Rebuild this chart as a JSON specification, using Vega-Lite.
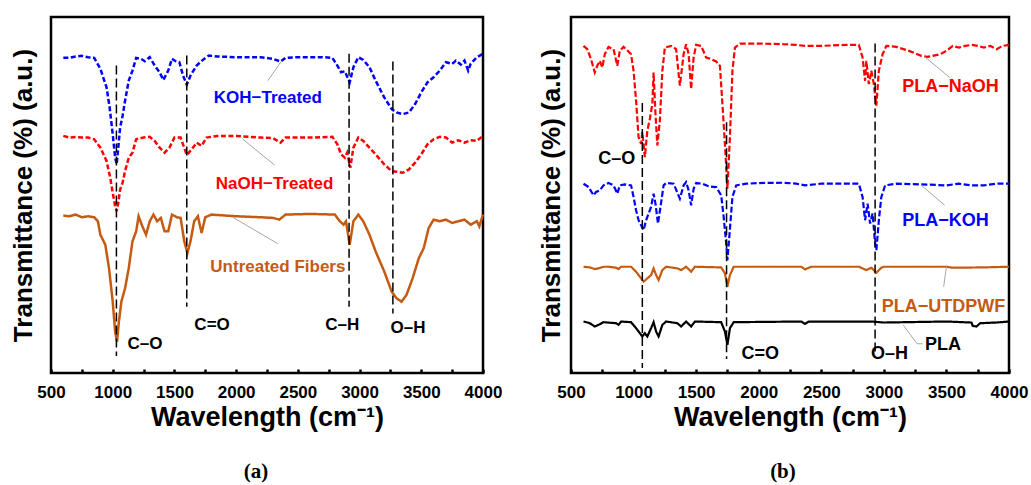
{
"$schema": "https://vega.github.io/schema/vega-lite/v6.json",
"background": "white",
"padding": {"left": 8, "top": 15, "right": 0, "bottom": 0},
"bounds": "flush",
"spacing": 88,
"resolve": {"scale": {"color": "independent", "strokeDash": "independent"}},
"config": {
  "view": {"stroke": "#000", "strokeWidth": 2.5},
  "font": "Liberation Sans",
  "axis": {"grid": false, "domain": false, "labelFont": "Liberation Sans", "labelFontWeight": "bold", "labelFontSize": 17, "labelColor": "#000", "titleFont": "Liberation Sans", "titleFontWeight": "bold", "titleFontSize": 26, "titleColor": "#000", "tickColor": "#000", "tickWidth": 2.5},
  "axisX": {"tickSize": -4, "labelPadding": 15, "titlePadding": 4, "titleFontSize": 27, "labelFlush": false, "labelOverlap": false}
},
"datasets": {
  "spectraA": [
    {"series":"KOH−Treated","wn":600,"t":94.1},{"series":"KOH−Treated","wn":650,"t":94.1},{"series":"KOH−Treated","wn":700,"t":94.5},{"series":"KOH−Treated","wn":750,"t":94.7},{"series":"KOH−Treated","wn":800,"t":94.3},{"series":"KOH−Treated","wn":850,"t":94.1},{"series":"KOH−Treated","wn":900,"t":90.8},{"series":"KOH−Treated","wn":950,"t":85.3},{"series":"KOH−Treated","wn":975,"t":79.3},{"series":"KOH−Treated","wn":1000,"t":71.3},{"series":"KOH−Treated","wn":1020,"t":64.3},{"series":"KOH−Treated","wn":1032,"t":62.3},{"series":"KOH−Treated","wn":1045,"t":67.3},{"series":"KOH−Treated","wn":1060,"t":73.3},{"series":"KOH−Treated","wn":1080,"t":76.8},{"series":"KOH−Treated","wn":1100,"t":81.3},{"series":"KOH−Treated","wn":1130,"t":87.3},{"series":"KOH−Treated","wn":1160,"t":90.3},{"series":"KOH−Treated","wn":1190,"t":94.1},{"series":"KOH−Treated","wn":1230,"t":93.8},{"series":"KOH−Treated","wn":1260,"t":93.1},{"series":"KOH−Treated","wn":1300,"t":94.3},{"series":"KOH−Treated","wn":1340,"t":91.8},{"series":"KOH−Treated","wn":1380,"t":89.8},{"series":"KOH−Treated","wn":1410,"t":87.5},{"series":"KOH−Treated","wn":1450,"t":90.3},{"series":"KOH−Treated","wn":1480,"t":93.8},{"series":"KOH−Treated","wn":1510,"t":93.1},{"series":"KOH−Treated","wn":1540,"t":92.8},{"series":"KOH−Treated","wn":1570,"t":88.8},{"series":"KOH−Treated","wn":1600,"t":86.1},{"series":"KOH−Treated","wn":1630,"t":88.8},{"series":"KOH−Treated","wn":1680,"t":91.8},{"series":"KOH−Treated","wn":1730,"t":93.5},{"series":"KOH−Treated","wn":1780,"t":94.8},{"series":"KOH−Treated","wn":1850,"t":94.5},{"series":"KOH−Treated","wn":2000,"t":94.3},{"series":"KOH−Treated","wn":2200,"t":94.3},{"series":"KOH−Treated","wn":2300,"t":93.8},{"series":"KOH−Treated","wn":2360,"t":93.0},{"series":"KOH−Treated","wn":2400,"t":94.1},{"series":"KOH−Treated","wn":2500,"t":94.3},{"series":"KOH−Treated","wn":2700,"t":94.3},{"series":"KOH−Treated","wn":2780,"t":94.1},{"series":"KOH−Treated","wn":2820,"t":91.8},{"series":"KOH−Treated","wn":2850,"t":89.8},{"series":"KOH−Treated","wn":2880,"t":90.1},{"series":"KOH−Treated","wn":2920,"t":86.8},{"series":"KOH−Treated","wn":2950,"t":91.3},{"series":"KOH−Treated","wn":2990,"t":94.3},{"series":"KOH−Treated","wn":3030,"t":93.5},{"series":"KOH−Treated","wn":3080,"t":91.3},{"series":"KOH−Treated","wn":3130,"t":87.3},{"series":"KOH−Treated","wn":3200,"t":82.3},{"series":"KOH−Treated","wn":3260,"t":78.8},{"series":"KOH−Treated","wn":3300,"t":77.8},{"series":"KOH−Treated","wn":3350,"t":77.3},{"series":"KOH−Treated","wn":3400,"t":77.8},{"series":"KOH−Treated","wn":3450,"t":80.3},{"series":"KOH−Treated","wn":3500,"t":83.8},{"series":"KOH−Treated","wn":3550,"t":86.8},{"series":"KOH−Treated","wn":3600,"t":88.3},{"series":"KOH−Treated","wn":3650,"t":90.3},{"series":"KOH−Treated","wn":3700,"t":92.8},{"series":"KOH−Treated","wn":3750,"t":92.3},{"series":"KOH−Treated","wn":3780,"t":93.3},{"series":"KOH−Treated","wn":3820,"t":92.1},{"series":"KOH−Treated","wn":3850,"t":93.3},{"series":"KOH−Treated","wn":3880,"t":90.3},{"series":"KOH−Treated","wn":3900,"t":92.3},{"series":"KOH−Treated","wn":3950,"t":94.3},{"series":"KOH−Treated","wn":4000,"t":95.3},
    {"series":"NaOH−Treated","wn":600,"t":70.8},{"series":"NaOH−Treated","wn":650,"t":70.3},{"series":"NaOH−Treated","wn":700,"t":70.5},{"series":"NaOH−Treated","wn":750,"t":70.3},{"series":"NaOH−Treated","wn":800,"t":70.3},{"series":"NaOH−Treated","wn":850,"t":69.8},{"series":"NaOH−Treated","wn":900,"t":67.3},{"series":"NaOH−Treated","wn":950,"t":63.3},{"series":"NaOH−Treated","wn":980,"t":58.3},{"series":"NaOH−Treated","wn":1000,"t":53.8},{"series":"NaOH−Treated","wn":1020,"t":49.8},{"series":"NaOH−Treated","wn":1032,"t":48.3},{"series":"NaOH−Treated","wn":1045,"t":50.8},{"series":"NaOH−Treated","wn":1060,"t":54.8},{"series":"NaOH−Treated","wn":1080,"t":56.8},{"series":"NaOH−Treated","wn":1100,"t":60.3},{"series":"NaOH−Treated","wn":1130,"t":64.3},{"series":"NaOH−Treated","wn":1160,"t":65.8},{"series":"NaOH−Treated","wn":1190,"t":69.8},{"series":"NaOH−Treated","wn":1250,"t":70.3},{"series":"NaOH−Treated","wn":1300,"t":70.5},{"series":"NaOH−Treated","wn":1340,"t":69.3},{"series":"NaOH−Treated","wn":1380,"t":67.3},{"series":"NaOH−Treated","wn":1420,"t":65.8},{"series":"NaOH−Treated","wn":1460,"t":67.3},{"series":"NaOH−Treated","wn":1500,"t":70.3},{"series":"NaOH−Treated","wn":1550,"t":70.3},{"series":"NaOH−Treated","wn":1600,"t":65.1},{"series":"NaOH−Treated","wn":1640,"t":66.8},{"series":"NaOH−Treated","wn":1680,"t":68.8},{"series":"NaOH−Treated","wn":1720,"t":67.8},{"series":"NaOH−Treated","wn":1760,"t":70.3},{"series":"NaOH−Treated","wn":1850,"t":70.8},{"series":"NaOH−Treated","wn":2000,"t":70.8},{"series":"NaOH−Treated","wn":2200,"t":70.3},{"series":"NaOH−Treated","wn":2300,"t":70.1},{"series":"NaOH−Treated","wn":2360,"t":68.8},{"series":"NaOH−Treated","wn":2400,"t":70.3},{"series":"NaOH−Treated","wn":2600,"t":70.3},{"series":"NaOH−Treated","wn":2780,"t":70.5},{"series":"NaOH−Treated","wn":2820,"t":68.3},{"series":"NaOH−Treated","wn":2850,"t":65.3},{"series":"NaOH−Treated","wn":2880,"t":64.3},{"series":"NaOH−Treated","wn":2900,"t":65.8},{"series":"NaOH−Treated","wn":2925,"t":61.3},{"series":"NaOH−Treated","wn":2950,"t":67.3},{"series":"NaOH−Treated","wn":2990,"t":70.3},{"series":"NaOH−Treated","wn":3030,"t":69.3},{"series":"NaOH−Treated","wn":3080,"t":67.3},{"series":"NaOH−Treated","wn":3130,"t":65.3},{"series":"NaOH−Treated","wn":3200,"t":62.3},{"series":"NaOH−Treated","wn":3260,"t":60.3},{"series":"NaOH−Treated","wn":3300,"t":60.1},{"series":"NaOH−Treated","wn":3350,"t":59.8},{"series":"NaOH−Treated","wn":3400,"t":60.8},{"series":"NaOH−Treated","wn":3450,"t":62.8},{"series":"NaOH−Treated","wn":3500,"t":65.3},{"series":"NaOH−Treated","wn":3550,"t":68.3},{"series":"NaOH−Treated","wn":3600,"t":69.8},{"series":"NaOH−Treated","wn":3650,"t":70.5},{"series":"NaOH−Treated","wn":3700,"t":70.3},{"series":"NaOH−Treated","wn":3750,"t":68.8},{"series":"NaOH−Treated","wn":3800,"t":69.5},{"series":"NaOH−Treated","wn":3850,"t":68.8},{"series":"NaOH−Treated","wn":3900,"t":69.5},{"series":"NaOH−Treated","wn":3950,"t":69.3},{"series":"NaOH−Treated","wn":4000,"t":70.8},
    {"series":"Untreated Fibers","wn":600,"t":47.0},{"series":"Untreated Fibers","wn":650,"t":46.8},{"series":"Untreated Fibers","wn":700,"t":47.3},{"series":"Untreated Fibers","wn":750,"t":46.5},{"series":"Untreated Fibers","wn":800,"t":46.8},{"series":"Untreated Fibers","wn":850,"t":46.5},{"series":"Untreated Fibers","wn":880,"t":45.3},{"series":"Untreated Fibers","wn":900,"t":41.3},{"series":"Untreated Fibers","wn":940,"t":38.3},{"series":"Untreated Fibers","wn":970,"t":31.3},{"series":"Untreated Fibers","wn":1000,"t":21.3},{"series":"Untreated Fibers","wn":1020,"t":12.3},{"series":"Untreated Fibers","wn":1035,"t":9.3},{"series":"Untreated Fibers","wn":1050,"t":15.3},{"series":"Untreated Fibers","wn":1070,"t":21.3},{"series":"Untreated Fibers","wn":1100,"t":25.3},{"series":"Untreated Fibers","wn":1130,"t":31.3},{"series":"Untreated Fibers","wn":1160,"t":39.3},{"series":"Untreated Fibers","wn":1190,"t":42.3},{"series":"Untreated Fibers","wn":1210,"t":46.8},{"series":"Untreated Fibers","wn":1240,"t":43.8},{"series":"Untreated Fibers","wn":1270,"t":41.3},{"series":"Untreated Fibers","wn":1300,"t":45.3},{"series":"Untreated Fibers","wn":1330,"t":47.3},{"series":"Untreated Fibers","wn":1360,"t":45.3},{"series":"Untreated Fibers","wn":1390,"t":46.3},{"series":"Untreated Fibers","wn":1420,"t":42.3},{"series":"Untreated Fibers","wn":1450,"t":42.3},{"series":"Untreated Fibers","wn":1480,"t":47.3},{"series":"Untreated Fibers","wn":1520,"t":46.5},{"series":"Untreated Fibers","wn":1550,"t":46.3},{"series":"Untreated Fibers","wn":1580,"t":39.3},{"series":"Untreated Fibers","wn":1605,"t":35.8},{"series":"Untreated Fibers","wn":1630,"t":39.3},{"series":"Untreated Fibers","wn":1660,"t":45.3},{"series":"Untreated Fibers","wn":1690,"t":46.8},{"series":"Untreated Fibers","wn":1720,"t":41.8},{"series":"Untreated Fibers","wn":1750,"t":46.5},{"series":"Untreated Fibers","wn":1800,"t":47.3},{"series":"Untreated Fibers","wn":2000,"t":46.8},{"series":"Untreated Fibers","wn":2200,"t":46.5},{"series":"Untreated Fibers","wn":2300,"t":46.3},{"series":"Untreated Fibers","wn":2350,"t":45.8},{"series":"Untreated Fibers","wn":2400,"t":47.3},{"series":"Untreated Fibers","wn":2600,"t":47.5},{"series":"Untreated Fibers","wn":2800,"t":47.3},{"series":"Untreated Fibers","wn":2840,"t":45.3},{"series":"Untreated Fibers","wn":2870,"t":44.3},{"series":"Untreated Fibers","wn":2890,"t":45.3},{"series":"Untreated Fibers","wn":2920,"t":38.3},{"series":"Untreated Fibers","wn":2950,"t":45.3},{"series":"Untreated Fibers","wn":2990,"t":47.3},{"series":"Untreated Fibers","wn":3030,"t":45.3},{"series":"Untreated Fibers","wn":3080,"t":41.3},{"series":"Untreated Fibers","wn":3130,"t":36.3},{"series":"Untreated Fibers","wn":3200,"t":30.3},{"series":"Untreated Fibers","wn":3260,"t":24.3},{"series":"Untreated Fibers","wn":3300,"t":22.3},{"series":"Untreated Fibers","wn":3340,"t":21.3},{"series":"Untreated Fibers","wn":3380,"t":23.3},{"series":"Untreated Fibers","wn":3430,"t":28.3},{"series":"Untreated Fibers","wn":3480,"t":34.3},{"series":"Untreated Fibers","wn":3520,"t":37.3},{"series":"Untreated Fibers","wn":3560,"t":43.3},{"series":"Untreated Fibers","wn":3600,"t":45.8},{"series":"Untreated Fibers","wn":3650,"t":45.3},{"series":"Untreated Fibers","wn":3700,"t":45.8},{"series":"Untreated Fibers","wn":3750,"t":44.8},{"series":"Untreated Fibers","wn":3800,"t":45.3},{"series":"Untreated Fibers","wn":3850,"t":45.8},{"series":"Untreated Fibers","wn":3900,"t":44.3},{"series":"Untreated Fibers","wn":3950,"t":45.3},{"series":"Untreated Fibers","wn":3970,"t":43.8},{"series":"Untreated Fibers","wn":4000,"t":47.3}
  ],
  "rulesA": [{"wn":1030,"t":91.8,"t2":5.1},{"wn":1600,"t":94.8,"t2":19.8},{"wn":2915,"t":95.3,"t2":19.8},{"wn":3270,"t":93.0,"t2":17.8}],
  "labelsA": [
    {"label":"KOH−Treated","series":"KOH−Treated","wn":2257,"t":82.0},
    {"label":"NaOH−Treated","series":"NaOH−Treated","wn":2311,"t":56.3},
    {"label":"Untreated Fibers","series":"Untreated Fibers","wn":2338,"t":31.6},
    {"label":"C–O","series":"bond","wn":1262,"t":8.6},
    {"label":"C=O","series":"bond","wn":1805,"t":14.3},
    {"label":"C–H","series":"bond","wn":2859,"t":14.3},
    {"label":"O–H","series":"bond","wn":3392,"t":13.3}
  ],
  "leadersA": [
    {"id":1,"wn":2257,"t":87.3},{"id":1,"wn":2365,"t":93.0},
    {"id":2,"wn":2054,"t":69.8},{"id":2,"wn":2311,"t":62.1},
    {"id":3,"wn":1973,"t":46.5},{"id":3,"wn":2338,"t":38.6}
  ],
  "spectraB": [
    {"series":"PLA−NaOH","wn":600,"t":98.5},{"series":"PLA−NaOH","wn":630,"t":97.5},{"series":"PLA−NaOH","wn":660,"t":94.5},{"series":"PLA−NaOH","wn":690,"t":90.5},{"series":"PLA−NaOH","wn":710,"t":92.5},{"series":"PLA−NaOH","wn":730,"t":94.0},{"series":"PLA−NaOH","wn":750,"t":92.0},{"series":"PLA−NaOH","wn":770,"t":96.0},{"series":"PLA−NaOH","wn":800,"t":98.2},{"series":"PLA−NaOH","wn":840,"t":97.5},{"series":"PLA−NaOH","wn":870,"t":92.5},{"series":"PLA−NaOH","wn":890,"t":97.0},{"series":"PLA−NaOH","wn":920,"t":98.2},{"series":"PLA−NaOH","wn":950,"t":97.2},{"series":"PLA−NaOH","wn":980,"t":96.0},{"series":"PLA−NaOH","wn":1000,"t":91.0},{"series":"PLA−NaOH","wn":1020,"t":82.0},{"series":"PLA−NaOH","wn":1040,"t":71.0},{"series":"PLA−NaOH","wn":1060,"t":69.0},{"series":"PLA−NaOH","wn":1070,"t":72.5},{"series":"PLA−NaOH","wn":1090,"t":65.0},{"series":"PLA−NaOH","wn":1110,"t":73.0},{"series":"PLA−NaOH","wn":1130,"t":76.5},{"series":"PLA−NaOH","wn":1150,"t":81.0},{"series":"PLA−NaOH","wn":1160,"t":90.5},{"series":"PLA−NaOH","wn":1175,"t":78.0},{"series":"PLA−NaOH","wn":1190,"t":68.5},{"series":"PLA−NaOH","wn":1210,"t":76.0},{"series":"PLA−NaOH","wn":1230,"t":91.0},{"series":"PLA−NaOH","wn":1250,"t":98.0},{"series":"PLA−NaOH","wn":1300,"t":98.5},{"series":"PLA−NaOH","wn":1340,"t":97.5},{"series":"PLA−NaOH","wn":1370,"t":86.5},{"series":"PLA−NaOH","wn":1400,"t":96.0},{"series":"PLA−NaOH","wn":1420,"t":99.0},{"series":"PLA−NaOH","wn":1440,"t":96.0},{"series":"PLA−NaOH","wn":1460,"t":85.5},{"series":"PLA−NaOH","wn":1480,"t":95.0},{"series":"PLA−NaOH","wn":1500,"t":98.8},{"series":"PLA−NaOH","wn":1540,"t":98.5},{"series":"PLA−NaOH","wn":1580,"t":95.0},{"series":"PLA−NaOH","wn":1620,"t":94.5},{"series":"PLA−NaOH","wn":1660,"t":93.8},{"series":"PLA−NaOH","wn":1690,"t":92.5},{"series":"PLA−NaOH","wn":1710,"t":81.0},{"series":"PLA−NaOH","wn":1730,"t":69.0},{"series":"PLA−NaOH","wn":1750,"t":55.5},{"series":"PLA−NaOH","wn":1770,"t":71.0},{"series":"PLA−NaOH","wn":1790,"t":91.0},{"series":"PLA−NaOH","wn":1810,"t":98.0},{"series":"PLA−NaOH","wn":1850,"t":99.2},{"series":"PLA−NaOH","wn":2000,"t":99.2},{"series":"PLA−NaOH","wn":2200,"t":99.0},{"series":"PLA−NaOH","wn":2300,"t":98.8},{"series":"PLA−NaOH","wn":2370,"t":98.5},{"series":"PLA−NaOH","wn":2500,"t":98.5},{"series":"PLA−NaOH","wn":2700,"t":98.8},{"series":"PLA−NaOH","wn":2800,"t":98.8},{"series":"PLA−NaOH","wn":2830,"t":95.0},{"series":"PLA−NaOH","wn":2850,"t":88.0},{"series":"PLA−NaOH","wn":2860,"t":94.0},{"series":"PLA−NaOH","wn":2880,"t":87.0},{"series":"PLA−NaOH","wn":2900,"t":91.0},{"series":"PLA−NaOH","wn":2920,"t":87.0},{"series":"PLA−NaOH","wn":2940,"t":80.5},{"series":"PLA−NaOH","wn":2960,"t":91.0},{"series":"PLA−NaOH","wn":2990,"t":96.0},{"series":"PLA−NaOH","wn":3020,"t":98.5},{"series":"PLA−NaOH","wn":3100,"t":98.2},{"series":"PLA−NaOH","wn":3200,"t":97.0},{"series":"PLA−NaOH","wn":3300,"t":95.5},{"series":"PLA−NaOH","wn":3350,"t":95.2},{"series":"PLA−NaOH","wn":3450,"t":96.0},{"series":"PLA−NaOH","wn":3500,"t":97.0},{"series":"PLA−NaOH","wn":3550,"t":98.5},{"series":"PLA−NaOH","wn":3600,"t":98.0},{"series":"PLA−NaOH","wn":3650,"t":98.5},{"series":"PLA−NaOH","wn":3700,"t":98.8},{"series":"PLA−NaOH","wn":3750,"t":98.5},{"series":"PLA−NaOH","wn":3800,"t":98.0},{"series":"PLA−NaOH","wn":3850,"t":98.5},{"series":"PLA−NaOH","wn":3900,"t":97.5},{"series":"PLA−NaOH","wn":3950,"t":98.5},{"series":"PLA−NaOH","wn":4000,"t":98.8},
    {"series":"PLA−KOH","wn":600,"t":57.0},{"series":"PLA−KOH","wn":640,"t":56.0},{"series":"PLA−KOH","wn":680,"t":53.5},{"series":"PLA−KOH","wn":700,"t":54.5},{"series":"PLA−KOH","wn":730,"t":55.0},{"series":"PLA−KOH","wn":760,"t":56.5},{"series":"PLA−KOH","wn":800,"t":57.2},{"series":"PLA−KOH","wn":840,"t":56.5},{"series":"PLA−KOH","wn":870,"t":54.0},{"series":"PLA−KOH","wn":890,"t":56.5},{"series":"PLA−KOH","wn":930,"t":56.8},{"series":"PLA−KOH","wn":980,"t":56.5},{"series":"PLA−KOH","wn":1000,"t":53.0},{"series":"PLA−KOH","wn":1020,"t":49.0},{"series":"PLA−KOH","wn":1040,"t":46.0},{"series":"PLA−KOH","wn":1060,"t":44.5},{"series":"PLA−KOH","wn":1080,"t":43.0},{"series":"PLA−KOH","wn":1100,"t":46.0},{"series":"PLA−KOH","wn":1120,"t":48.0},{"series":"PLA−KOH","wn":1140,"t":50.0},{"series":"PLA−KOH","wn":1160,"t":54.0},{"series":"PLA−KOH","wn":1175,"t":51.0},{"series":"PLA−KOH","wn":1195,"t":45.0},{"series":"PLA−KOH","wn":1215,"t":50.0},{"series":"PLA−KOH","wn":1240,"t":56.5},{"series":"PLA−KOH","wn":1260,"t":57.2},{"series":"PLA−KOH","wn":1320,"t":57.0},{"series":"PLA−KOH","wn":1370,"t":52.5},{"series":"PLA−KOH","wn":1400,"t":56.5},{"series":"PLA−KOH","wn":1420,"t":57.5},{"series":"PLA−KOH","wn":1440,"t":55.0},{"series":"PLA−KOH","wn":1460,"t":50.5},{"series":"PLA−KOH","wn":1480,"t":55.5},{"series":"PLA−KOH","wn":1500,"t":57.2},{"series":"PLA−KOH","wn":1550,"t":57.0},{"series":"PLA−KOH","wn":1600,"t":56.2},{"series":"PLA−KOH","wn":1660,"t":56.0},{"series":"PLA−KOH","wn":1700,"t":53.5},{"series":"PLA−KOH","wn":1720,"t":47.0},{"series":"PLA−KOH","wn":1740,"t":39.0},{"series":"PLA−KOH","wn":1750,"t":34.0},{"series":"PLA−KOH","wn":1765,"t":41.0},{"series":"PLA−KOH","wn":1790,"t":53.0},{"series":"PLA−KOH","wn":1820,"t":56.5},{"series":"PLA−KOH","wn":1900,"t":57.0},{"series":"PLA−KOH","wn":2000,"t":57.2},{"series":"PLA−KOH","wn":2200,"t":57.3},{"series":"PLA−KOH","wn":2300,"t":57.0},{"series":"PLA−KOH","wn":2370,"t":56.5},{"series":"PLA−KOH","wn":2500,"t":57.0},{"series":"PLA−KOH","wn":2800,"t":57.0},{"series":"PLA−KOH","wn":2830,"t":53.0},{"series":"PLA−KOH","wn":2850,"t":46.0},{"series":"PLA−KOH","wn":2870,"t":51.0},{"series":"PLA−KOH","wn":2890,"t":45.0},{"series":"PLA−KOH","wn":2910,"t":48.0},{"series":"PLA−KOH","wn":2930,"t":39.0},{"series":"PLA−KOH","wn":2940,"t":37.0},{"series":"PLA−KOH","wn":2960,"t":46.0},{"series":"PLA−KOH","wn":2980,"t":53.0},{"series":"PLA−KOH","wn":3010,"t":56.5},{"series":"PLA−KOH","wn":3100,"t":57.0},{"series":"PLA−KOH","wn":3300,"t":56.8},{"series":"PLA−KOH","wn":3500,"t":56.5},{"series":"PLA−KOH","wn":3600,"t":57.0},{"series":"PLA−KOH","wn":3700,"t":56.5},{"series":"PLA−KOH","wn":3800,"t":56.5},{"series":"PLA−KOH","wn":3900,"t":57.0},{"series":"PLA−KOH","wn":4000,"t":57.0},
    {"series":"PLA−UTDPWF","wn":600,"t":32.0},{"series":"PLA−UTDPWF","wn":650,"t":31.8},{"series":"PLA−UTDPWF","wn":690,"t":31.3},{"series":"PLA−UTDPWF","wn":720,"t":31.5},{"series":"PLA−UTDPWF","wn":760,"t":32.0},{"series":"PLA−UTDPWF","wn":800,"t":32.0},{"series":"PLA−UTDPWF","wn":860,"t":31.7},{"series":"PLA−UTDPWF","wn":880,"t":31.3},{"series":"PLA−UTDPWF","wn":900,"t":32.0},{"series":"PLA−UTDPWF","wn":980,"t":32.0},{"series":"PLA−UTDPWF","wn":1020,"t":30.5},{"series":"PLA−UTDPWF","wn":1050,"t":29.0},{"series":"PLA−UTDPWF","wn":1080,"t":27.5},{"series":"PLA−UTDPWF","wn":1110,"t":28.5},{"series":"PLA−UTDPWF","wn":1140,"t":29.5},{"series":"PLA−UTDPWF","wn":1160,"t":31.5},{"series":"PLA−UTDPWF","wn":1180,"t":29.5},{"series":"PLA−UTDPWF","wn":1200,"t":28.0},{"series":"PLA−UTDPWF","wn":1230,"t":31.0},{"series":"PLA−UTDPWF","wn":1260,"t":32.0},{"series":"PLA−UTDPWF","wn":1350,"t":31.5},{"series":"PLA−UTDPWF","wn":1380,"t":31.0},{"series":"PLA−UTDPWF","wn":1420,"t":32.0},{"series":"PLA−UTDPWF","wn":1460,"t":30.5},{"series":"PLA−UTDPWF","wn":1490,"t":32.0},{"series":"PLA−UTDPWF","wn":1700,"t":31.8},{"series":"PLA−UTDPWF","wn":1730,"t":30.0},{"series":"PLA−UTDPWF","wn":1750,"t":26.0},{"series":"PLA−UTDPWF","wn":1770,"t":29.5},{"series":"PLA−UTDPWF","wn":1800,"t":32.0},{"series":"PLA−UTDPWF","wn":2340,"t":32.0},{"series":"PLA−UTDPWF","wn":2370,"t":31.2},{"series":"PLA−UTDPWF","wn":2420,"t":32.0},{"series":"PLA−UTDPWF","wn":2800,"t":32.0},{"series":"PLA−UTDPWF","wn":2860,"t":31.0},{"series":"PLA−UTDPWF","wn":2900,"t":31.7},{"series":"PLA−UTDPWF","wn":2940,"t":30.2},{"series":"PLA−UTDPWF","wn":2980,"t":31.7},{"series":"PLA−UTDPWF","wn":3000,"t":32.0},{"series":"PLA−UTDPWF","wn":3500,"t":32.0},{"series":"PLA−UTDPWF","wn":3550,"t":31.7},{"series":"PLA−UTDPWF","wn":3800,"t":31.8},{"series":"PLA−UTDPWF","wn":4000,"t":32.0},
    {"series":"PLA","wn":600,"t":15.5},{"series":"PLA","wn":650,"t":15.0},{"series":"PLA","wn":690,"t":14.0},{"series":"PLA","wn":720,"t":14.5},{"series":"PLA","wn":760,"t":15.3},{"series":"PLA","wn":860,"t":15.0},{"series":"PLA","wn":880,"t":14.5},{"series":"PLA","wn":900,"t":15.5},{"series":"PLA","wn":980,"t":15.3},{"series":"PLA","wn":1020,"t":13.5},{"series":"PLA","wn":1050,"t":12.0},{"series":"PLA","wn":1070,"t":11.0},{"series":"PLA","wn":1090,"t":12.0},{"series":"PLA","wn":1110,"t":11.0},{"series":"PLA","wn":1140,"t":13.5},{"series":"PLA","wn":1160,"t":15.3},{"series":"PLA","wn":1180,"t":12.5},{"series":"PLA","wn":1200,"t":11.0},{"series":"PLA","wn":1230,"t":14.5},{"series":"PLA","wn":1260,"t":15.5},{"series":"PLA","wn":1350,"t":15.0},{"series":"PLA","wn":1380,"t":14.0},{"series":"PLA","wn":1420,"t":15.5},{"series":"PLA","wn":1460,"t":14.0},{"series":"PLA","wn":1490,"t":15.5},{"series":"PLA","wn":1700,"t":15.3},{"series":"PLA","wn":1730,"t":12.5},{"series":"PLA","wn":1750,"t":8.5},{"series":"PLA","wn":1770,"t":13.5},{"series":"PLA","wn":1800,"t":15.3},{"series":"PLA","wn":2340,"t":15.5},{"series":"PLA","wn":2370,"t":14.8},{"series":"PLA","wn":2400,"t":15.5},{"series":"PLA","wn":2900,"t":15.5},{"series":"PLA","wn":3000,"t":15.2},{"series":"PLA","wn":3500,"t":15.5},{"series":"PLA","wn":3700,"t":15.2},{"series":"PLA","wn":3710,"t":14.2},{"series":"PLA","wn":3740,"t":14.0},{"series":"PLA","wn":3770,"t":15.0},{"series":"PLA","wn":3900,"t":15.2},{"series":"PLA","wn":4000,"t":15.5}
  ],
  "rulesB": [{"wn":1070,"t":81.3,"t2":1.5},{"wn":1743,"t":75.5,"t2":4.2},{"wn":2930,"t":99.2,"t2":6.0}],
  "labelsB": [
    {"label":"PLA−NaOH","series":"PLA−NaOH","wn":3532,"t":86.0},
    {"label":"PLA−KOH","series":"PLA−KOH","wn":3492,"t":45.8},
    {"label":"PLA−UTDPWF","series":"PLA−UTDPWF","wn":3476,"t":19.8},
    {"label":"PLA","series":"PLA","wn":3473,"t":8.5},
    {"label":"C–O","series":"bond","wn":865,"t":64.5},
    {"label":"C=O","series":"bond","wn":2012,"t":5.8},
    {"label":"O–H","series":"bond","wn":3045,"t":5.8}
  ],
  "leadersB": [
    {"id":1,"wn":3327,"t":95.2},{"id":1,"wn":3526,"t":89.0},
    {"id":2,"wn":3300,"t":56.5},{"id":2,"wn":3486,"t":50.5},
    {"id":3,"wn":3500,"t":32.0},{"id":3,"wn":3478,"t":26.0},
    {"id":4,"wn":3154,"t":14.5},{"id":4,"wn":3265,"t":8.8},{"id":4,"wn":3308,"t":8.8}
  ]
},
"hconcat": [
  {
    "width": 432, "height": 356,
    "title": {"text": "(a)", "orient": "bottom", "frame": "bounds", "font": "Liberation Serif", "fontSize": 21, "fontWeight": "bold", "color": "#000", "offset": 31},
    "encoding": {
      "x": {"field": "wn", "type": "quantitative", "scale": {"domain": [500, 4000], "nice": false, "zero": false},
            "axis": {"title": "Wavelength (cm⁻¹)", "values": [500,750,1000,1250,1500,1750,2000,2250,2500,2750,3000,3250,3500,3750,4000], "format": "d", "labelExpr": "datum.value % 500 === 0 ? datum.label : ''"}},
      "y": {"field": "t", "type": "quantitative", "scale": {"domain": [0, 106.3], "nice": false, "zero": false},
            "axis": {"title": "Transmittance (%) (a.u.)", "labels": false, "ticks": false, "titlePadding": 15}}
    },
    "layer": [
      {"data": {"name": "spectraA"}, "mark": {"type": "line", "strokeWidth": 2.5},
       "encoding": {
         "color": {"field": "series", "type": "nominal", "scale": {"domain": ["KOH−Treated","NaOH−Treated","Untreated Fibers","bond"], "range": ["#0000FF","#FF0000","#C55A11","#000000"]}, "legend": null},
         "strokeDash": {"field": "series", "type": "nominal", "scale": {"domain": ["KOH−Treated","NaOH−Treated","Untreated Fibers"], "range": [[5,2.5],[5,2.5],[1,0]]}, "legend": null}
       }},
      {"data": {"name": "rulesA"}, "mark": {"type": "rule", "color": "#000", "strokeWidth": 1.5, "strokeDash": [9,4]},
       "encoding": {"y2": {"field": "t2"}}},
      {"data": {"name": "leadersA"}, "mark": {"type": "line", "color": "#A6A6A6", "strokeWidth": 1},
       "encoding": {"detail": {"field": "id", "type": "nominal"}}},
      {"data": {"name": "labelsA"}, "mark": {"type": "text", "fontWeight": "bold", "fontSize": 17, "align": "center", "baseline": "middle"},
       "encoding": {"text": {"field": "label"},
         "color": {"field": "series", "type": "nominal", "scale": {"domain": ["KOH−Treated","NaOH−Treated","Untreated Fibers","bond"], "range": ["#0000FF","#FF0000","#C55A11","#000000"]}, "legend": null}}}
    ]
  },
  {
    "width": 438, "height": 356,
    "title": {"text": "(b)", "orient": "bottom", "frame": "bounds", "font": "Liberation Serif", "fontSize": 21, "fontWeight": "bold", "color": "#000", "offset": 31},
    "encoding": {
      "x": {"field": "wn", "type": "quantitative", "scale": {"domain": [500, 4000], "nice": false, "zero": false},
            "axis": {"title": "Wavelength (cm⁻¹)", "values": [500,750,1000,1250,1500,1750,2000,2250,2500,2750,3000,3250,3500,3750,4000], "format": "d", "labelExpr": "datum.value % 500 === 0 ? datum.label : ''"}},
      "y": {"field": "t", "type": "quantitative", "scale": {"domain": [0, 107.2], "nice": false, "zero": false},
            "axis": {"title": "Transmittance (%) (a.u.)", "labels": false, "ticks": false, "titlePadding": 7}}
    },
    "layer": [
      {"data": {"name": "spectraB"}, "mark": {"type": "line", "strokeWidth": 2.2},
       "encoding": {
         "color": {"field": "series", "type": "nominal", "scale": {"domain": ["PLA−NaOH","PLA−KOH","PLA−UTDPWF","PLA","bond"], "range": ["#FF0000","#0000FF","#C55A11","#000000","#000000"]}, "legend": null},
         "strokeDash": {"field": "series", "type": "nominal", "scale": {"domain": ["PLA−NaOH","PLA−KOH","PLA−UTDPWF","PLA"], "range": [[6,2.5],[6,2.5],[1,0],[1,0]]}, "legend": null}
       }},
      {"data": {"name": "rulesB"}, "mark": {"type": "rule", "color": "#000", "strokeWidth": 1.5, "strokeDash": [9,4]},
       "encoding": {"y2": {"field": "t2"}}},
      {"data": {"name": "leadersB"}, "mark": {"type": "line", "color": "#A6A6A6", "strokeWidth": 1},
       "encoding": {"detail": {"field": "id", "type": "nominal"}}},
      {"data": {"name": "labelsB"}, "mark": {"type": "text", "fontWeight": "bold", "fontSize": 18, "align": "center", "baseline": "middle"},
       "encoding": {"text": {"field": "label"},
         "color": {"field": "series", "type": "nominal", "scale": {"domain": ["PLA−NaOH","PLA−KOH","PLA−UTDPWF","PLA","bond"], "range": ["#FF0000","#0000FF","#C55A11","#000000","#000000"]}, "legend": null}}}
    ]
  }
]
}
